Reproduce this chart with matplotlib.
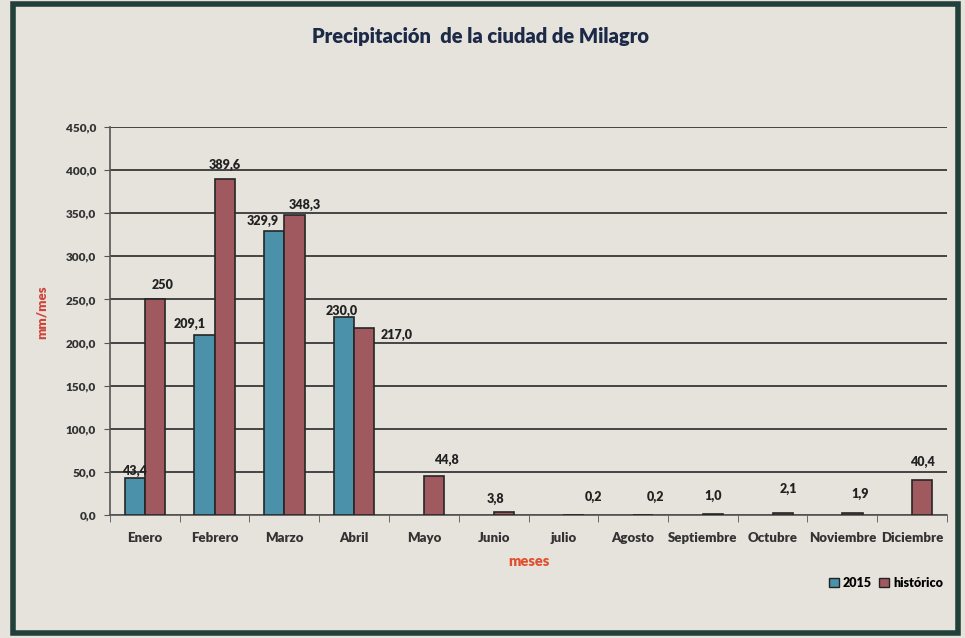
import matplotlib.pyplot as plt
import matplotlib.patches as mpatches
import numpy as np

# data
meses = ['Enero', 'Febrero', 'Marzo', 'Abril', 'Mayo', 'Junio', 'julio',
         'Agosto', 'Septiembre', 'Octubre', 'Noviembre', 'Diciembre']
v2015 = [43.4, 209.1, 329.9, 230.0]          # only Jan-Apr reported
historico = [250, 389.6, 348.3, 217.0, 44.8, 3.8, 0.2, 0.2, 1.0, 2.1, 1.9, 40.4]
historico_txt = ['250', '389,6', '348,3', '217,0', '44,8', '3,8', '0,2', '0,2',
                 '1,0', '2,1', '1,9', '40,4']
yticks = np.arange(0, 451, 50)

# label nudges in pixels (style, not data)
off_2015 = [(0, 7), (-15, 11), (-12, 10), (-2, 6)]
off_hist = [(8, 14), (0, 14), (10, 10), (32, -7), (12, 16), (-8, 13),
            (20, 18), (12, 18), (0, 18), (6, 24), (8, 19), (0, 18)]

PAPER = '#e5e3dc'
BLUE = '#4b91aa'
RED = '#a05a5f'
FONT = 'Lato'
W = 'heavy'

plt.rcParams['font.family'] = [FONT, 'DejaVu Sans']

fig = plt.figure(figsize=(9.65, 6.38), dpi=100, facecolor=PAPER)
ax = fig.add_axes([110/965, 1-515/638, 837/965, 388/638])
ax.set_facecolor('none')

x = np.arange(len(meses))
w = 0.29
ax.bar(x[:len(v2015)] - w/2, v2015, w, color=BLUE, edgecolor='#262626', lw=1.2, zorder=3)
ax.bar(x + w/2, historico, w, color=RED, edgecolor='#262626', lw=1.2, zorder=3)

for i, v in enumerate(v2015):
    ax.annotate(f'{v:.1f}'.replace('.', ','), (x[i] - w/2, v), xytext=off_2015[i],
                textcoords='offset pixels', ha='center', va='center',
                fontsize=9, fontweight=W, color='#222', zorder=5)
for i, v in enumerate(historico):
    ax.annotate(historico_txt[i], (x[i] + w/2, v), xytext=off_hist[i],
                textcoords='offset pixels', ha='center', va='center',
                fontsize=9, fontweight=W, color='#222', zorder=5)

ax.set_xlim(-0.5, len(meses) - 0.5)
ax.set_ylim(0, 450)
ax.set_yticks(yticks)
ax.set_yticklabels([f'{t:.1f}'.replace('.', ',') for t in yticks], fontsize=8.5,
                   fontweight=W, color='#333')
ax.yaxis.grid(True, color='#444', lw=1.4, zorder=1)
ax.set_axisbelow(True)
ax.tick_params(axis='y', length=4, color='#555', pad=6)

ax.set_xticks(x)
ax.set_xticklabels(meses, fontsize=9.5, fontweight=W, color='#333')
ax.set_xticks(np.arange(-0.5, len(meses)), minor=True)
ax.tick_params(axis='x', which='major', length=0, pad=12)
ax.tick_params(axis='x', which='minor', length=5, color='#555')

for s in ['top', 'right']:
    ax.spines[s].set_visible(False)
for s in ['left', 'bottom']:
    ax.spines[s].set_color('#555')
    ax.spines[s].set_linewidth(1.2)

fig.text(481/965, 1-37/638, 'Precipitación  de la ciudad de Milagro', ha='center',
         va='center', fontsize=14.5, fontweight=W, color='#1c2a48')
fig.text(42/965, 1-312/638, 'mm/mes', rotation=90, ha='center', va='center',
         fontsize=9.5, fontweight=W, color='#d0443a')
fig.text(529/965, 1-562/638, 'meses', ha='center', va='center',
         fontsize=10.5, fontweight=W, color='#e0502e')

handles = [mpatches.Patch(facecolor=BLUE, edgecolor='#222', label='2015'),
           mpatches.Patch(facecolor=RED, edgecolor='#222', label='histórico')]
fig.legend(handles=handles, loc='center', bbox_to_anchor=(886/965, 1-583/638),
           ncol=2, frameon=False, handlelength=0.8, handleheight=0.8,
           handletextpad=0.3, columnspacing=0.6, prop={'size': 9, 'weight': W})

# dark frame around the chart area
frame = mpatches.Rectangle((13/965, 1-633/638), 945/965, 629/638, transform=fig.transFigure,
                           fill=False, edgecolor='#22403a', lw=4, zorder=0)
fig.patches.append(frame)

fig.savefig('out.png', dpi=100, facecolor=PAPER)
